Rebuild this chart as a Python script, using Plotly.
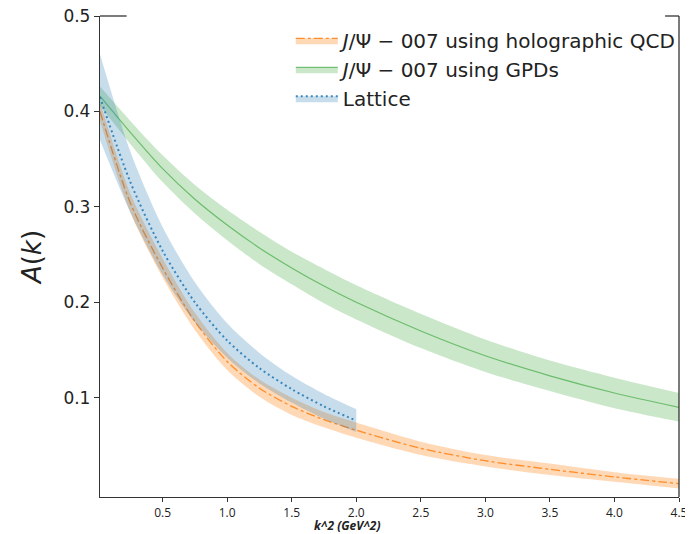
import plotly.graph_objects as go

# ---- data ----
k2 = [0.015, 0.25, 0.5, 0.75, 1.0, 1.25, 1.5, 1.75, 2.0, 2.5, 3.0, 3.5, 4.0, 4.5]

holo_center = [0.400, 0.304, 0.236, 0.180, 0.138, 0.110, 0.091, 0.077, 0.066, 0.047, 0.034, 0.025, 0.017, 0.010]
holo_half   = [0.010, 0.010, 0.010, 0.009, 0.009, 0.009, 0.009, 0.008, 0.008, 0.007, 0.006, 0.006, 0.005, 0.005]

gpd_center = [0.416, 0.378, 0.340, 0.308, 0.281, 0.257, 0.236, 0.217, 0.200, 0.170, 0.144, 0.123, 0.105, 0.090]
gpd_half   = [0.010, 0.012, 0.014, 0.015, 0.016, 0.017, 0.017, 0.018, 0.018, 0.018, 0.017, 0.016, 0.016, 0.015]

lat_k2     = [0.015, 0.25, 0.5, 0.75, 1.0, 1.25, 1.5, 1.75, 2.0]
lat_center = [0.415, 0.326, 0.254, 0.200, 0.160, 0.131, 0.109, 0.091, 0.076]
lat_half   = [0.045, 0.032, 0.025, 0.021, 0.018, 0.016, 0.014, 0.013, 0.012]

y_ticks = [0.1, 0.2, 0.3, 0.4, 0.5]
x_ticks = [0.5, 1.0, 1.5, 2.0, 2.5, 3.0, 3.5, 4.0, 4.5]

series = [
    dict(name="<i>J</i>/Ψ − 007 using holographic QCD", x=k2, c=holo_center, h=holo_half,
         line=dict(color="rgba(255,127,14,0.85)", width=1.3, dash="dashdot"),
         fill="rgba(255,127,14,0.30)"),
    dict(name="<i>J</i>/Ψ − 007 using GPDs", x=k2, c=gpd_center, h=gpd_half,
         line=dict(color="rgba(44,160,44,0.6)", width=1.2, dash="solid"),
         fill="rgba(44,160,44,0.25)"),
    dict(name="Lattice", x=lat_k2, c=lat_center, h=lat_half,
         line=dict(color="rgba(31,119,180,0.85)", width=2, dash="2px,3px"),
         fill="rgba(31,119,180,0.25)"),
]

fig = go.Figure()
for s in series:
    hi = [c + h for c, h in zip(s["c"], s["h"])]
    lo = [c - h for c, h in zip(s["c"], s["h"])]
    fig.add_trace(go.Scatter(x=s["x"], y=hi, mode="lines", line=dict(width=0, shape="spline", smoothing=0.8),
                             showlegend=False, hoverinfo="skip"))
    fig.add_trace(go.Scatter(x=s["x"], y=s["c"], mode="lines", name=s["name"],
                             line=dict(**s["line"], shape="spline", smoothing=0.8),
                             fill="tonexty", fillcolor=s["fill"]))
    fig.add_trace(go.Scatter(x=s["x"], y=lo, mode="lines", line=dict(width=0, shape="spline", smoothing=0.8),
                             fill="tonexty", fillcolor=s["fill"], showlegend=False, hoverinfo="skip"))

axis_col = "#333333"
# page body has an 8px default margin, so the figure is sized to fit the window
fig.update_layout(
    width=685, height=526,
    margin=dict(l=92, r=11, t=8, b=37),
    paper_bgcolor="white", plot_bgcolor="white",
    showlegend=True,
    legend=dict(x=1.01, xanchor="right", y=0.99, yanchor="top",
                traceorder="normal",
                bgcolor="rgba(255,255,255,0)", itemwidth=42,
                font=dict(family="DejaVu Sans", size=20, color="#222"),
                tracegroupgap=0),
    xaxis=dict(range=[0.015, 4.5], tickvals=x_ticks, ticktext=[f"{v:.1f}" for v in x_ticks],
               automargin=False, ticklabeloverflow="allow",
               showgrid=False, zeroline=False, showline=True, linecolor=axis_col, linewidth=1.3,
               ticks="outside", ticklen=4, tickcolor=axis_col,
               tickfont=dict(family="Open Sans", size=12, color="#222")),
    yaxis=dict(range=[-0.004, 0.5], tickvals=y_ticks, ticktext=[f"{v:.1f}" for v in y_ticks],
               automargin=False, ticklabeloverflow="allow",
               showgrid=False, zeroline=False, showline=True, linecolor=axis_col, linewidth=1.3,
               ticks="outside", ticklen=5, tickcolor=axis_col,
               tickfont=dict(family="DejaVu Sans", size=17, color="#222"),
               title=dict(text="<i>A</i>(<i>k</i>)", standoff=14,
                          font=dict(family="DejaVu Sans", size=26, color="#222"))),
    annotations=[
        dict(text="<b><i>k^2 (GeV^2)</i></b>", xref="paper", yref="paper",
             x=0.427, y=-0.060, xanchor="center", yanchor="middle", showarrow=False,
             font=dict(family="Open Sans", size=12, color="#222")),
    ],
    shapes=[
        dict(type="line", xref="paper", yref="paper", x0=1, x1=1, y0=0, y1=1,
             line=dict(color=axis_col, width=1.3)),
        dict(type="line", xref="paper", yref="paper", x0=0, x1=0.046, y0=1, y1=1,
             line=dict(color=axis_col, width=1.3)),
        dict(type="line", xref="paper", yref="paper", x0=0.976, x1=1, y0=1, y1=1,
             line=dict(color=axis_col, width=1.3)),
    ],
)

fig.write_html("out.html")
